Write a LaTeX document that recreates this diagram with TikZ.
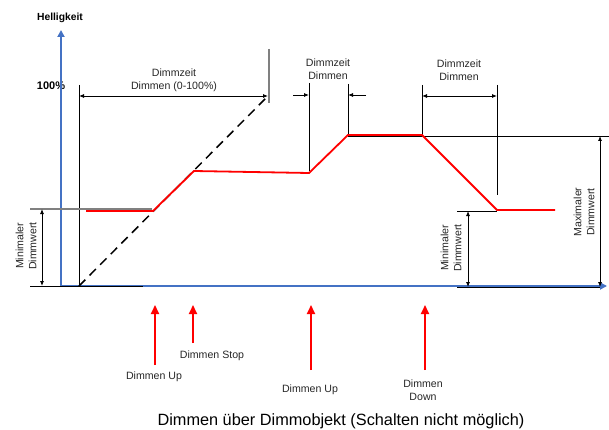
\documentclass[tikz,border=0pt]{standalone}
\usepackage{fontspec}
\setmainfont{Liberation Sans}
\usetikzlibrary{arrows.meta}
\definecolor{axisblue}{RGB}{68,114,196}
\tikzset{
  axisline/.style={draw=axisblue, line width=1.8pt, -{Triangle[length=7pt,width=7pt]}},
  thin/.style={draw=black, line width=0.8pt},
  grayline/.style={draw=gray, line width=1.6pt},
  dimarrow/.style={draw=black, line width=0.8pt, {Latex[length=5pt,width=4pt]}-{Latex[length=5pt,width=4pt]}},
  onearrow/.style={draw=black, line width=0.8pt, -{Latex[length=5pt,width=4pt]}},
  curve/.style={draw=red, line width=1.8pt, line join=miter},
  cmd/.style={draw=red, line width=1.8pt, -{Triangle[length=9pt,width=8pt]}},
  lbl/.style={font=\fontsize{10.6}{13}\selectfont, text=black!85, align=center, inner sep=0pt},
  rlbl/.style={lbl, rotate=90},
}
\begin{document}
\begin{tikzpicture}[x=1pt,y=-1pt]
\useasboundingbox (0,0) rectangle (609,430);
% axes
\coordinate (o) at (61,286);
\coordinate (ytop) at (61,30);
\coordinate (xend) at (607,286);
\node[font=\bfseries\fontsize{10.3}{12}\selectfont, anchor=center] (hell) at (60,18) {Helligkeit};
\node[font=\bfseries\fontsize{11}{13}\selectfont, anchor=center] (hundred) at (51,86) {100\%};
% black base lines
\coordinate (bl1) at (30,286); \coordinate (bl2) at (143,286);
\coordinate (br1) at (457,287); \coordinate (br2) at (600,287);
\draw[axisline] (o) -- (ytop);
\draw[axisline] (o) -- (xend);
\draw[thin] (bl1) -- (bl2);
\draw[thin] (br1) -- (br2);
% first dimension
\coordinate (v1t) at (79,85); \coordinate (v1b) at (79,286);
\draw[thin] (v1t) -- (v1b);
\coordinate (g1t) at (269,49); \coordinate (g1b) at (269,103);
\draw[grayline] (g1t) -- (g1b);
\coordinate (d1a) at (79,96); \coordinate (d1b) at (268,96);
\draw[dimarrow] (d1a) -- (d1b);
\node[lbl] (t1) at (174,80) {Dimmzeit\\Dimmen (0-100\%)};
\draw[black, line width=1.5pt, dash pattern=on 9pt off 6pt] (v1b) -- (d1b);
% min left
\coordinate (ml1) at (30,209); \coordinate (ml2) at (152,209);
\draw[grayline, line width=1.2pt] (ml1) -- (ml2);
\coordinate (ma) at (42,209); \coordinate (mb) at (42,286);
\draw[dimarrow] (ma) -- (mb);
\node[rlbl] (tml) at (26,246) {Minimaler\\Dimmwert};
% second dimension
\coordinate (v2t) at (309,83); \coordinate (v2b) at (309,171);
\coordinate (v3t) at (348,84); \coordinate (v3b) at (348,135);
\draw[thin] (v2t) -- (v2b);
\draw[thin] (v3t) -- (v3b);
\coordinate (s2a) at (293,95); \coordinate (s2b) at (309,95);
\coordinate (s3a) at (366,95); \coordinate (s3b) at (348,95);
\draw[onearrow] (s2a) -- (s2b);
\draw[onearrow] (s3a) -- (s3b);
\node[lbl] (t2) at (328,69) {Dimmzeit\\Dimmen};
% third dimension
\coordinate (v4t) at (422,85); \coordinate (v4b) at (422,135);
\coordinate (v5t) at (497,85); \coordinate (v5b) at (497,195);
\draw[thin] (v4t) -- (v4b);
\draw[thin] (v5t) -- (v5b);
\coordinate (d3a) at (422,96); \coordinate (d3b) at (497,96);
\draw[dimarrow] (d3a) -- (d3b);
\node[lbl] (t3) at (459,70) {Dimmzeit\\Dimmen};
% max line
\coordinate (mx1) at (348,136); \coordinate (mx2) at (609,136);
\draw[thin] (mx1) -- (mx2);
\coordinate (mxa) at (600,136); \coordinate (mxb) at (600,287);
\draw[dimarrow] (mxa) -- (mxb);
\node[rlbl] (tmx) at (584,212) {Maximaler\\Dimmwert};
% min right
\coordinate (mr1) at (457,211); \coordinate (mr2) at (497,211);
\draw[thin] (mr1) -- (mr2);
\coordinate (mra) at (468,211); \coordinate (mrb) at (468,287);
\draw[dimarrow] (mra) -- (mrb);
\node[rlbl] (tmr) at (451,248) {Minimaler\\Dimmwert};
% red curve
\draw[curve] (86,211) -- (153,211) -- (194,171) -- (309,173) -- (348,135) -- (422,135) -- (497,210) -- (555,210);
% commands
\coordinate (c1b) at (155,365); \coordinate (c1t) at (155,305);
\coordinate (c2b) at (193,343); \coordinate (c2t) at (193,305);
\coordinate (c3b) at (311,370); \coordinate (c3t) at (311,305);
\coordinate (c4b) at (425,370); \coordinate (c4t) at (425,305);
\draw[cmd] (c1b) -- (c1t);
\draw[cmd] (c2b) -- (c2t);
\draw[cmd] (c3b) -- (c3t);
\draw[cmd] (c4b) -- (c4t);
\node[lbl] (l1) at (154,377) {Dimmen Up};
\node[lbl] (l2) at (212,356) {Dimmen Stop};
\node[lbl] (l3) at (310,390) {Dimmen Up};
\node[lbl] (l4) at (423,390) {Dimmen\\Down};
\node[font=\fontsize{16.3}{19}\selectfont, inner sep=0pt] (title) at (341,421) {Dimmen über Dimmobjekt (Schalten nicht möglich)};
\end{tikzpicture}
\end{document}
